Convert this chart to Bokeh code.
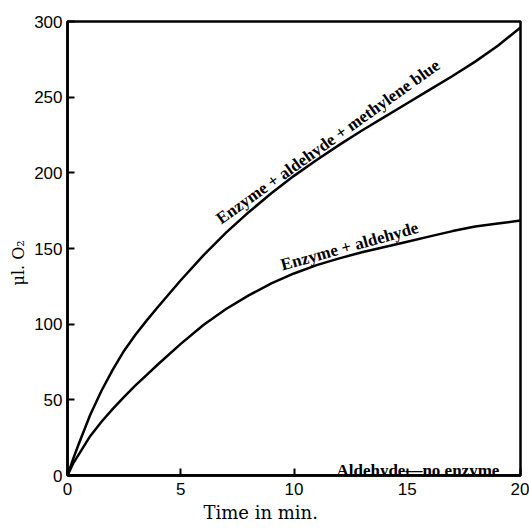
from bokeh.plotting import figure
from bokeh.models import Range1d, Label, FixedTicker, Title
from bokeh.embed import file_html
from bokeh.resources import INLINE

# ---- data ----
time_min = [0, 0.25, 0.5, 1, 1.5, 2, 2.5, 3, 3.5, 4, 5, 6, 7, 8, 9, 10, 11, 12, 13, 14, 15, 16, 17, 18, 19, 20]
o2_enzyme_aldehyde_mb = [0, 11, 21, 40, 56, 70, 82.5, 93, 102.5, 111.5, 129, 145.5, 160.5, 174, 186.5, 198, 208.5, 218.5, 228, 237, 246, 255, 264, 273.5, 284, 296]
o2_enzyme_aldehyde = [0, 8, 14, 26, 35.5, 44, 52, 59.5, 66.5, 73.5, 87, 99.5, 110, 119, 127, 133.5, 139, 143.5, 147.5, 151, 154.5, 158, 161.5, 164.5, 166.5, 168.5]
time_no_enzyme = [0, 20]
o2_no_enzyme = [0, 0]

x_ticks = [0, 5, 10, 15, 20]
y_ticks = [0, 50, 100, 150, 200, 250, 300]

x_title = "Time in min."
y_title = "\u03bcl. O\u2082"
label_mb = "Enzyme + aldehyde + methylene blue"
label_ea = "Enzyme + aldehyde"
label_ne = "Aldehyde\u2014no enzyme"

p = figure(width=529, height=529, output_backend="svg", toolbar_location=None,
           x_range=Range1d(0, 20), y_range=Range1d(0, 300),
           min_border_left=67, min_border_right=9, min_border_top=21, min_border_bottom=54)

p.background_fill_color = "white"
p.border_fill_color = "white"
p.grid.visible = False
p.outline_line_color = "black"
p.outline_line_width = 2.5

for ax in (p.xaxis[0], p.yaxis[0]):
    ax.axis_line_width = 2.5
    ax.axis_line_color = "black"
    ax.major_tick_in = 7
    ax.major_tick_out = 0
    ax.major_tick_line_width = 2
    ax.minor_tick_line_color = None
    ax.major_label_text_font = "Liberation Sans"
    ax.major_label_text_font_size = "17px"
    ax.major_label_text_color = "black"

p.xaxis.ticker = FixedTicker(ticks=x_ticks)
p.yaxis.ticker = FixedTicker(ticks=y_ticks)
p.xaxis.major_label_standoff = 7
p.yaxis.major_label_standoff = 5

# axis titles placed off-centre as in the reference
p.add_layout(Title(text=x_title, align="left", offset=136, standoff=4,
                   text_font="DejaVu Serif", text_font_size="18px",
                   text_font_style="normal", text_color="black"), "below")
p.add_layout(Title(text=y_title, align="left", offset=190, standoff=8,
                   text_font="DejaVu Serif", text_font_size="16px",
                   text_font_style="normal", text_color="black"), "left")

p.line(time_min, o2_enzyme_aldehyde_mb, line_color="black", line_width=2.5)
p.line(time_min, o2_enzyme_aldehyde, line_color="black", line_width=2.5)
p.line(time_no_enzyme, o2_no_enzyme, line_color="black", line_width=2.5)

lab_font = "Liberation Serif"
p.add_layout(Label(x=11.5, y=220.5, text=label_mb, angle=35.5, angle_units="deg",
                   text_align="center", text_baseline="middle", text_color="black",
                   text_font=lab_font, text_font_style="bold", text_font_size="17px"))
p.add_layout(Label(x=12.45, y=151.5, text=label_ea, angle=15.5, angle_units="deg",
                   text_align="center", text_baseline="middle", text_color="black",
                   text_font=lab_font, text_font_style="bold", text_font_size="17px"))
p.add_layout(Label(x=15.47, y=3.3, text=label_ne,
                   text_align="center", text_baseline="alphabetic", text_color="black",
                   text_font=lab_font, text_font_style="bold", text_font_size="17px"))

open("out.html", "w").write(file_html(p, INLINE))
